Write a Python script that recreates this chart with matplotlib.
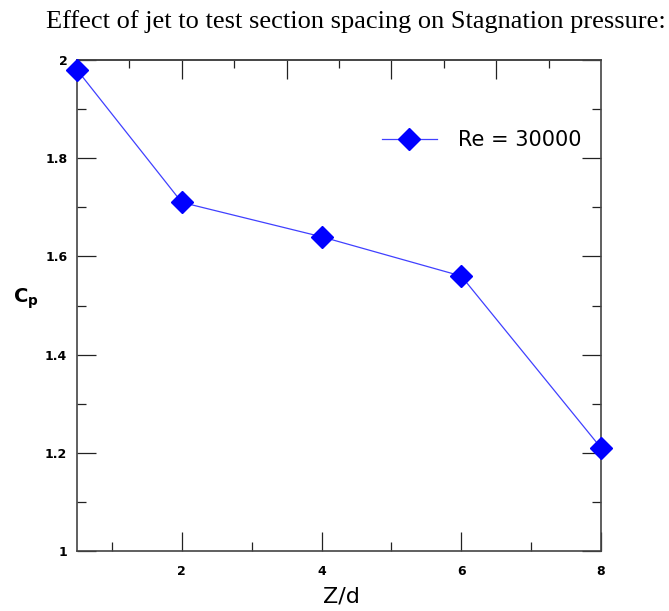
import matplotlib.pyplot as plt
from matplotlib.ticker import MultipleLocator

# data
zd = [0.5, 2, 4, 6, 8]
cp = [1.98, 1.71, 1.64, 1.56, 1.21]
xticks = [2, 4, 6, 8]
yticks = [1, 1.2, 1.4, 1.6, 1.8, 2]
ytick_labels = ['1', '1.2', '1.4', '1.6', '1.8', '2']

fig = plt.figure(figsize=(6.69, 6.11), dpi=100)
ax = fig.add_axes([77 / 669, 1 - 551 / 611, 524 / 669, 491 / 611])

ax.plot(zd, cp, color='#4040ff', lw=0.9, marker='D', ms=11,
        mfc='blue', mec='blue', label='Re = 30000', clip_on=False, zorder=3)

ax.set_xlim(0.5, 8)
ax.set_ylim(1, 2)
ax.set_xticks(xticks)
ax.set_yticks(yticks)
ax.set_yticklabels(ytick_labels)
ax.xaxis.set_minor_locator(MultipleLocator(1))
ax.yaxis.set_minor_locator(MultipleLocator(0.1))
ax.tick_params(which='both', direction='in', top=False, right=True,
               labelsize=9, width=0.9, color='#222222')
ax.tick_params(which='major', length=14)
ax.tick_params(which='minor', length=6.5)
ax.tick_params(axis='y', which='major', pad=7)
ax.tick_params(axis='x', which='major', pad=10)
for lab in ax.get_xticklabels() + ax.get_yticklabels():
    lab.set_fontweight('bold')
for s in ax.spines.values():
    s.set_linewidth(1.2)
    s.set_color('#444444')

# top axis carries its own evenly spaced ticks (tenths of the width)
top = ax.secondary_xaxis('top')
top.set_xticks([0.5 + 7.5 * f for f in (0.2, 0.4, 0.6, 0.8)])
top.set_xticks([0.5 + 7.5 * f for f in (0.1, 0.3, 0.5, 0.7, 0.9)], minor=True)
top.tick_params(which='both', direction='in', labeltop=False, width=0.9,
                color='#222222')
top.tick_params(which='major', length=14)
top.tick_params(which='minor', length=6)
top.spines['top'].set_linewidth(1.2)
top.spines['top'].set_color('#444444')

fig.text(341 / 669, 1 - 597 / 611, 'Z/d', ha='center', va='center',
         family='DejaVu Sans', fontsize=16)
fig.text(26 / 669, 1 - 299 / 611, 'C$_\\mathregular{p}$', ha='center', va='center',
         family='DejaVu Sans', fontsize=14, fontweight='bold')

leg = ax.legend(loc='center left', bbox_to_anchor=(382 / 669, 1 - 140 / 611),
                bbox_transform=fig.transFigure, frameon=False, borderpad=0,
                borderaxespad=0, handlelength=2.64, handletextpad=1.0,
                prop={'family': 'DejaVu Sans', 'size': 15})

fig.text(356 / 669, 1 - 28 / 611,
         'Effect of jet to test section spacing on Stagnation pressure:',
         ha='center', va='baseline', family='Liberation Serif', fontsize=19)

fig.savefig('out.png', dpi=100)
